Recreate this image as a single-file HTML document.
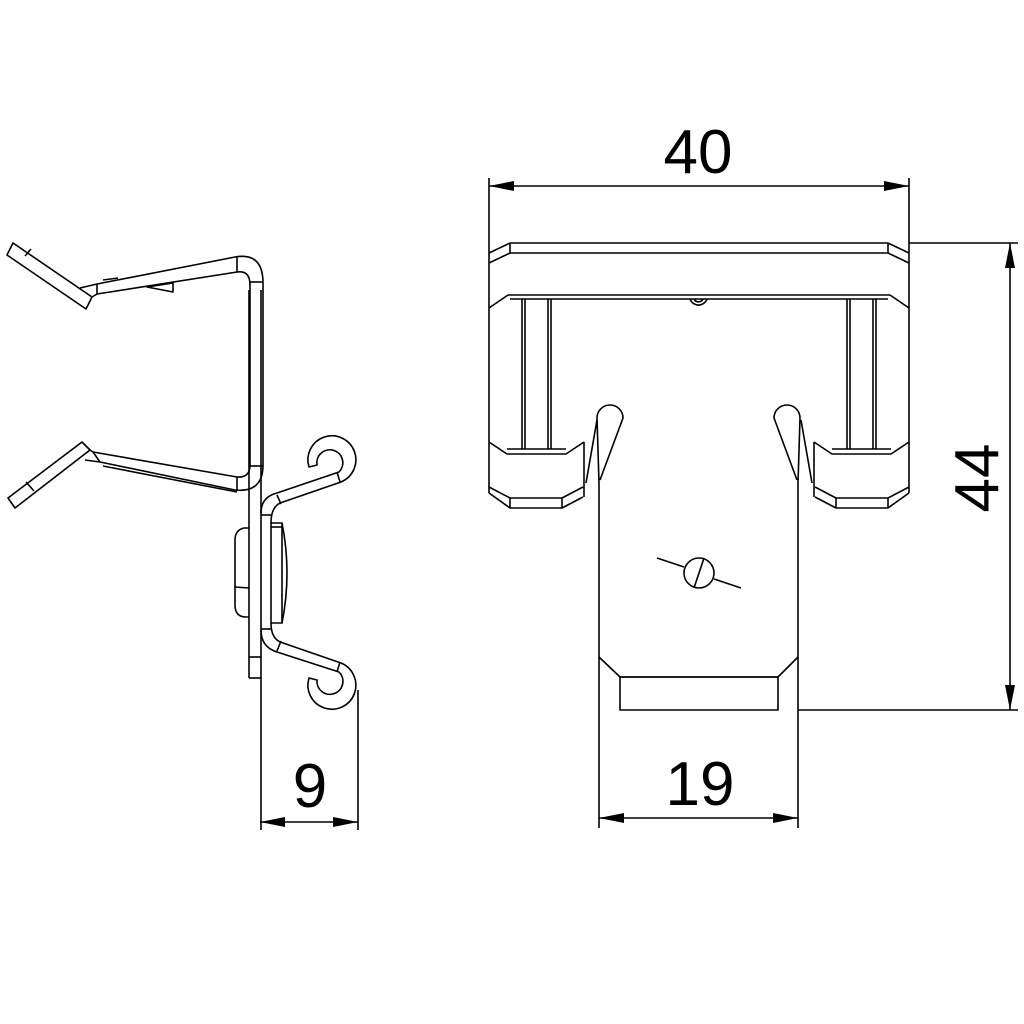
<!DOCTYPE html>
<html><head><meta charset="utf-8"><style>
html,body{margin:0;padding:0;background:#fff;}
svg{display:block;}
text{font-family:"Liberation Sans",sans-serif;fill:#000;}
</style></head><body>
<svg width="1024" height="1024" viewBox="0 0 1024 1024" xmlns="http://www.w3.org/2000/svg">
<rect width="1024" height="1024" fill="#fff"/>
<g fill="none" stroke="#000" stroke-width="1.6" stroke-linejoin="round">
<!-- ===== LEFT (side) VIEW ===== -->
<line x1="249" y1="290" x2="249" y2="678"/>
<line x1="261" y1="290" x2="261" y2="830"/>
<line x1="249" y1="678" x2="261" y2="678"/>
<line x1="249" y1="657" x2="261" y2="657"/>
<!-- arms -->
<path d="M97,284 L235,257 Q263,252 263,283 L263,465 Q263,493 235,490 L100,462"/>
<path d="M97,294 L237,272 Q250,270 250,285 L250,465 Q250,478 237,477 L93,452"/>
<line x1="97" y1="284" x2="97" y2="294"/>
<line x1="93" y1="452" x2="100" y2="462"/>
<line x1="237" y1="257" x2="237" y2="272"/>
<line x1="250" y1="282" x2="263" y2="282"/>
<line x1="250" y1="466" x2="263" y2="466"/>
<line x1="237" y1="477" x2="237" y2="491"/>
<line x1="103" y1="280" x2="118" y2="278"/>
<polygon points="147,287 173,283 173,292"/>
<path d="M103,466 L237,492"/>
<!-- top tip -->
<polygon points="7,255 13,243 92,297 86,309"/>
<line x1="25" y1="256" x2="31" y2="249"/>
<path d="M80,288 L97,284 M92,297 L97,294"/>
<!-- bottom tip -->
<polygon points="82,442 90,450 15,508 8,498"/>
<line x1="26" y1="482" x2="34" y2="491"/>
<path d="M90,450 L93,452 M85,460 L100,462"/>
<!-- spring right -->
<path d="M261,513 Q261,497 277,493 L339,472"/>
<path d="M271,523 Q271,505 283,502 L341,482"/>
<line x1="261" y1="515" x2="271" y2="515"/>
<line x1="277" y1="495" x2="281" y2="504"/>
<line x1="337" y1="472" x2="340" y2="482"/>
<path d="M339,472 A13,13 0 1 0 317,465 L309,467 A24,24 0 1 1 341,482"/>
<path d="M261,630 Q261,647 277,652 L339,672"/>
<path d="M271,623 Q271,640 283,643 L341,663"/>
<line x1="261" y1="629" x2="271" y2="629"/>
<line x1="277" y1="651" x2="281" y2="641"/>
<line x1="337" y1="672" x2="340" y2="662"/>
<path d="M339,672 A13,13 0 1 1 317,680 L309,678 A24,24 0 1 0 341,663"/>
<!-- lens -->
<rect x="271" y="523" width="11" height="100"/>
<path d="M282,523 Q292,573 282,623"/>
<line x1="271" y1="527" x2="282" y2="527"/>
<!-- left bump -->
<path d="M249,528 L244,528 Q235,530 235,540 L235,605 Q235,617 246,617 L249,617"/>
<line x1="235" y1="587" x2="249" y2="588"/>
<!-- ===== RIGHT (front) VIEW ===== -->
<line x1="510" y1="243" x2="888" y2="243"/>
<line x1="510" y1="253" x2="888" y2="253"/>
<line x1="510" y1="243" x2="510" y2="253"/>
<line x1="888" y1="243" x2="888" y2="253"/>
<polyline points="489,253 510,243"/>
<polyline points="489,263 510,253"/>
<polyline points="909,253 888,243"/>
<polyline points="909,263 888,253"/>
<line x1="508" y1="295" x2="890" y2="295"/>
<line x1="510" y1="299" x2="888" y2="299"/>
<line x1="489" y1="308" x2="508" y2="295"/>
<line x1="909" y1="308" x2="890" y2="295"/>
<path d="M690,299 A9,9 0 0 0 707,299"/>
<path d="M694,299 A5,5 0 0 0 703,299"/>
<line x1="489" y1="178" x2="489" y2="493"/>
<line x1="909" y1="178" x2="909" y2="493"/>
<polyline points="489,442 507,454 566,454 584,442"/>
<line x1="507" y1="449" x2="566" y2="449"/>
<line x1="584" y1="442" x2="584" y2="497"/>
<polyline points="489,487 510,498 562,498 583,487"/>
<polyline points="489,493 510,508 562,508 583,497"/>
<line x1="510" y1="498" x2="510" y2="508"/>
<line x1="562" y1="498" x2="562" y2="508"/>
<polyline points="909,442 891,454 832,454 814,442"/>
<line x1="832" y1="449" x2="891" y2="449"/>
<line x1="814" y1="442" x2="814" y2="497"/>
<polyline points="909,487 888,498 836,498 815,487"/>
<polyline points="909,493 888,508 836,508 815,497"/>
<line x1="888" y1="498" x2="888" y2="508"/>
<line x1="836" y1="498" x2="836" y2="508"/>
<line x1="522" y1="299" x2="522" y2="449"/>
<line x1="525" y1="299" x2="525" y2="449"/>
<line x1="548" y1="299" x2="548" y2="449"/>
<line x1="551" y1="299" x2="551" y2="449"/>
<line x1="847" y1="299" x2="847" y2="449"/>
<line x1="850" y1="299" x2="850" y2="449"/>
<line x1="873" y1="299" x2="873" y2="449"/>
<line x1="876" y1="299" x2="876" y2="449"/>
<path d="M599,828 L599,483 L597,418 A13,13 0 0 1 623,418 L600,480"/>
<path d="M798,828 L798,483 L800,418 A13,13 0 0 0 774,418 L797,480"/>
<line x1="586" y1="483" x2="597" y2="420"/>
<line x1="812" y1="483" x2="801" y2="420"/>
<polyline points="599,657 620,677 778,677 798,657"/>
<rect x="620" y="677" width="158" height="33"/>
<line x1="798" y1="710" x2="1018" y2="710"/>
<circle cx="699" cy="573" r="15"/>
<line x1="657" y1="558" x2="684" y2="567"/>
<line x1="714" y1="579" x2="741" y2="588"/>
<line x1="694" y1="588" x2="704" y2="558"/>
<line x1="489" y1="186" x2="909" y2="186"/>
<line x1="909" y1="243" x2="1018" y2="243"/>
<line x1="1010" y1="243" x2="1010" y2="710"/>
<line x1="260" y1="822" x2="358" y2="822"/>
<line x1="358" y1="690" x2="358" y2="830"/>
<line x1="599" y1="818" x2="798" y2="818"/>
</g>
<g fill="#000">
<polygon points="489,186 514,181 514,191"/>
<polygon points="909,186 884,181 884,191"/>
<polygon points="1010,243 1005,268 1015,268"/>
<polygon points="1010,710 1005,685 1015,685"/>
<polygon points="260,822 285,817 285,827"/>
<polygon points="358,822 333,817 333,827"/>
<polygon points="599,818 624,813 624,823"/>
<polygon points="798,818 773,813 773,823"/>
</g>
<text x="698" y="173" font-size="62" text-anchor="middle">40</text>
<text x="310" y="807" font-size="62" text-anchor="middle">9</text>
<text x="700" y="805" font-size="62" text-anchor="middle">19</text>
<text x="0" y="0" font-size="62" text-anchor="middle" transform="translate(998,478) rotate(-90)">44</text>
</svg>
</body></html>
